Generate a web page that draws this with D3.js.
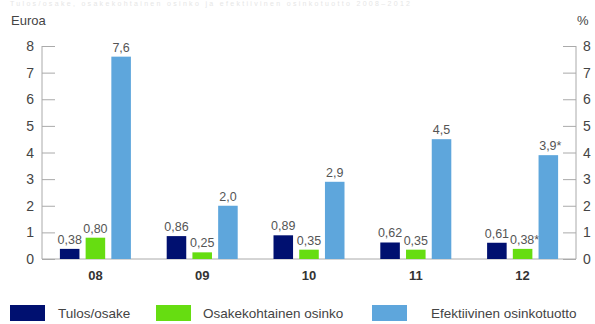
<!DOCTYPE html>
<html>
<head>
<meta charset="utf-8">
<script src="https://cdn.jsdelivr.net/npm/d3@7/dist/d3.min.js"></script>
<style>
  html, body { margin: 0; padding: 0; background: #fff; }
  svg { display: block; font-family: "Liberation Sans", Arial, sans-serif; }
</style>
</head>
<body>
<svg id="chart" width="595" height="324"></svg>
<script>
// Years shown on the x axis
const years = ["08", "09", "10", "11", "12"];
// Earnings per share, EUR
const eps = [0.38, 0.86, 0.89, 0.62, 0.61];
const epsLabels = ["0,38", "0,86", "0,89", "0,62", "0,61"];
// Dividend per share, EUR
const dividend = [0.80, 0.25, 0.35, 0.35, 0.38];
const dividendLabels = ["0,80", "0,25", "0,35", "0,35", "0,38*"];
// Effective dividend yield, %
const yieldPct = [7.6, 2.0, 2.9, 4.5, 3.9];
const yieldLabels = ["7,6", "2,0", "2,9", "4,5", "3,9*"];
// Axis ticks (both axes share 0–8)
const ticks = [0, 1, 2, 3, 4, 5, 6, 7, 8];
const seriesNames = ["Tulos/osake", "Osakekohtainen osinko", "Efektiivinen osinkotuotto"];
const colors = ["#001070", "#66dd11", "#5ea6dc"];

const svg = d3.select("#chart");
const plotL = 42, plotR = 576, plotT = 46, plotB = 259;

const x = d3.scaleBand().domain(years).range([plotL, plotR]).padding(0);
const inner = d3.scaleBand().domain([0, 1, 2]).range([-35.5, 35.5]).paddingInner(0.24).paddingOuter(0);
const yL = d3.scaleLinear().domain([0, 8]).range([plotB, plotT]);
const yR = d3.scaleLinear().domain([0, 8]).range([plotB, plotT]);

// Faint heading line at the very top
svg.append("text").attr("x", 10).attr("y", 6)
  .attr("font-size", 7).attr("fill", "#e6e6e6")
  .attr("textLength", 400).attr("lengthAdjust", "spacing")
  .text("Tulos/osake, osakekohtainen osinko ja efektiivinen osinkotuotto 2008–2012");

// Axis unit labels
svg.append("text").attr("x", 11).attr("y", 25).attr("font-size", 13).attr("fill", "#444").text("Euroa");
svg.append("text").attr("x", 577).attr("y", 25).attr("font-size", 13).attr("fill", "#444").text("%");

// Left axis
const axL = svg.append("g").attr("transform", `translate(${plotL},0)`)
  .call(d3.axisRight(yL).tickValues(ticks).tickSize(13).tickFormat(""));
axL.selectAll("path,line").attr("stroke", "#aaa");
axL.select(".domain").attr("d", `M0,${plotT}V${plotB}`);
svg.append("g").selectAll("text").data(ticks).join("text")
  .attr("x", 34).attr("y", d => yL(d) + 5).attr("text-anchor", "end")
  .attr("font-size", 14).attr("fill", "#444").text(d => d);

// Right axis
const axR = svg.append("g").attr("transform", `translate(${plotR},0)`)
  .call(d3.axisLeft(yR).tickValues(ticks).tickSize(13).tickFormat(""));
axR.selectAll("path,line").attr("stroke", "#aaa");
axR.select(".domain").attr("d", `M0,${plotT}V${plotB}`);
svg.append("defs").append("clipPath").attr("id", "rclip")
  .append("rect").attr("x", 570).attr("y", 0).attr("width", 21).attr("height", 324);
svg.append("g").attr("clip-path", "url(#rclip)").selectAll("text").data(ticks).join("text")
  .attr("x", 583).attr("y", d => yR(d) + 5)
  .attr("font-size", 14).attr("fill", "#444").text(d => d);

// Baseline
svg.append("line").attr("x1", plotL).attr("x2", plotR).attr("y1", plotB).attr("y2", plotB)
  .attr("stroke", "#aaa");

// Bars
const series = [
  { vals: eps, labels: epsLabels, scale: yL },
  { vals: dividend, labels: dividendLabels, scale: yL },
  { vals: yieldPct, labels: yieldLabels, scale: yR }
];
series.forEach((s, i) => {
  const g = svg.append("g");
  const cx = (d, j) => x(years[j]) + x.bandwidth() / 2 + inner(i);
  g.selectAll("rect").data(s.vals).join("rect")
    .attr("x", cx).attr("width", inner.bandwidth())
    .attr("y", d => s.scale(d)).attr("height", d => plotB - s.scale(d))
    .attr("fill", colors[i]);
  g.selectAll("text").data(s.vals).join("text")
    .attr("x", (d, j) => cx(d, j) + inner.bandwidth() / 2 + (s.labels[j].endsWith("*") ? 2 : 0))
    .attr("y", d => s.scale(d) - 5)
    .attr("text-anchor", "middle").attr("font-size", 12.5).attr("fill", "#555")
    .text((d, j) => s.labels[j]);
});

// Category labels
svg.append("g").selectAll("text").data(years).join("text")
  .attr("x", d => x(d) + x.bandwidth() / 2).attr("y", 279.5)
  .attr("text-anchor", "middle").attr("font-size", 13).attr("font-weight", "bold")
  .attr("fill", "#333").text(d => d);

// Legend
const swatchX = [10, 156, 372];
const labelX = [58, 203, 431];
const lg = svg.append("g").selectAll("g").data(seriesNames).join("g");
lg.append("rect").attr("x", (d, i) => swatchX[i]).attr("y", 305)
  .attr("width", 35).attr("height", 16).attr("fill", (d, i) => colors[i]);
lg.append("text").attr("x", (d, i) => labelX[i]).attr("y", 318)
  .attr("font-size", 13.5).attr("fill", "#444").text(d => d);
</script>
</body>
</html>
